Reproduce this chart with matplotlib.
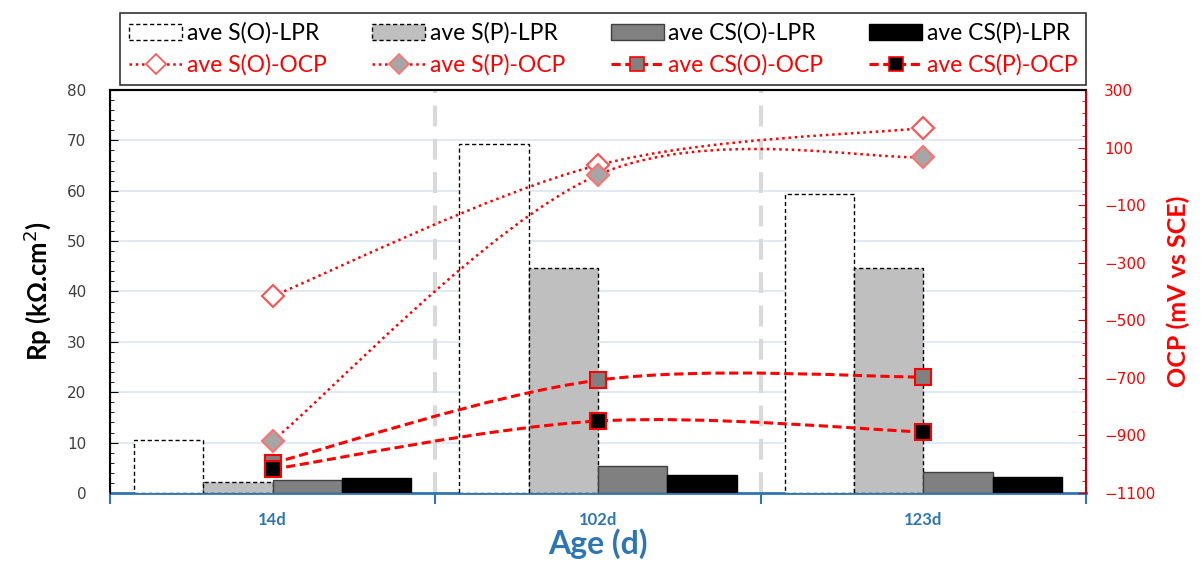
import numpy as np
import matplotlib
matplotlib.use("Agg")
import matplotlib.pyplot as plt
from matplotlib.path import Path
from matplotlib.patches import PathPatch, Patch
from matplotlib.lines import Line2D

# data
ages = ["14d", "102d", "123d"]
lpr_names = ["ave S(O)-LPR", "ave S(P)-LPR", "ave CS(O)-LPR", "ave CS(P)-LPR"]
s_o_lpr = [10.5, 69.2, 59.3]
s_p_lpr = [2.2, 44.6, 44.6]
cs_o_lpr = [2.6, 5.4, 4.2]
cs_p_lpr = [3.0, 3.6, 3.2]

ocp_names = ["ave S(O)-OCP", "ave S(P)-OCP", "ave CS(O)-OCP", "ave CS(P)-OCP"]
s_o_ocp = [-416, 39, 168]
s_p_ocp = [-919, 5, 67]
cs_o_ocp = [-996, -708, -697]
cs_p_ocp = [-1017, -850, -888]

BLUE = "#2E75B6"
RED = "#FF0000"
FONT = ["Lato", "DejaVu Sans"]


def smooth_path(xs, ys):
    # excel-like smoothed line: cubic bezier through the points
    pts = np.column_stack([xs, ys]).astype(float)
    n = len(pts)
    verts = [pts[0]]
    codes = [Path.MOVETO]
    for i in range(n - 1):
        p0 = pts[max(i - 1, 0)]
        p1 = pts[i]
        p2 = pts[i + 1]
        p3 = pts[min(i + 2, n - 1)]
        c1 = p1 + (p2 - p0) / 6.0
        c2 = p2 - (p3 - p1) / 6.0
        verts += [c1, c2, p2]
        codes += [Path.CURVE4] * 3
    return Path(verts, codes)


fig = plt.figure(figsize=(12.03, 5.67), dpi=100)
ax = fig.add_axes([0.0914, 0.1305, 0.8113, 0.7108])
ax2 = ax.twinx()

x = np.arange(len(ages))
w = 0.213
bar_styles = [
    dict(color="white", edgecolor="black", linestyle=(0, (3, 2)), linewidth=1.0),
    dict(color="#BFBFBF", edgecolor="black", linestyle=(0, (3, 2)), linewidth=1.0),
    dict(color="#808080", edgecolor="#404040", linewidth=1.0),
    dict(color="black", edgecolor="black", linewidth=1.0),
]
lpr_vals = [s_o_lpr, s_p_lpr, cs_o_lpr, cs_p_lpr]
bar_handles = []
for k, (vals, st) in enumerate(zip(lpr_vals, bar_styles)):
    ax.bar(x + (k - 1.5) * w, vals, width=w, zorder=3, **st)
    bar_handles.append(Patch(facecolor=st["color"], edgecolor=st["edgecolor"],
                             linestyle=st.get("linestyle", "-"), linewidth=1.0,
                             label=lpr_names[k]))

# horizontal gridlines and category separators
ax.set_ylim(0, 80)
ax.set_yticks(np.arange(0, 81, 10))
ax.set_yticks(np.arange(0, 81, 2), minor=True)
ax.grid(axis="y", color="#DCE6F2", linewidth=1.2, zorder=0)
ax.set_axisbelow(True)
for b in [0.5, 1.5]:
    ax.axvline(b, color="#D9D9D9", linewidth=3, linestyle=(0, (5, 3)), zorder=1)

ax.set_xlim(-0.5, 2.5)
ax.set_xticks(x)
ax.set_xticklabels(ages)
ax.set_xticks([-0.5, 0.5, 1.5, 2.5], minor=True)
ax.tick_params(axis="x", which="major", length=0, pad=14, labelcolor=BLUE)
ax.tick_params(axis="x", which="minor", length=8, width=1.5, color=BLUE, direction="out")
for t in ax.get_xticklabels():
    t.set_fontweight("bold")
    t.set_fontsize(12)
    t.set_family(FONT)

ax.tick_params(axis="y", which="major", direction="in", length=6, labelcolor="#404040",
               labelsize=11, pad=17)
ax.tick_params(axis="y", which="minor", direction="in", length=3)
ax.spines["bottom"].set_color(BLUE)
ax.spines["bottom"].set_linewidth(2)
ax.spines["left"].set_linewidth(1.5)
ax.spines["top"].set_linewidth(1.5)
ax.set_ylabel("Rp (kΩ.cm$^2$)", fontsize=18.5, fontweight="bold", family=FONT, labelpad=10)
ax.set_xlabel("Age (d)", fontsize=23, fontweight="bold", color=BLUE, family=FONT, labelpad=0)

# OCP on right axis
ax2.set_ylim(-1100, 300)
ax2.set_yticks(np.arange(-1100, 301, 200))
ax2.set_yticks(np.arange(-1100, 301, 40), minor=True)
ax2.tick_params(axis="y", which="major", direction="in", length=6, color="#C00000",
                labelcolor=RED, labelsize=11, pad=13)
ax2.tick_params(axis="y", which="minor", direction="in", length=3, color="#C00000")
ax2.spines["right"].set_color("#C00000")
ax2.spines["right"].set_linewidth(1.5)
ax2.spines["bottom"].set_visible(False)
ax2.spines["top"].set_linewidth(1.5)
ax2.set_ylabel("OCP (mV vs SCE)", fontsize=18, fontweight="bold", color=RED,
               family=FONT, labelpad=8)

ocp_vals = [s_o_ocp, s_p_ocp, cs_o_ocp, cs_p_ocp]
line_styles = [
    dict(ls=(0, (1, 1.5)), lw=1.8, marker="D", mfc="white", mec="#FF5050", ms=11),
    dict(ls=(0, (1, 1.5)), lw=1.8, marker="D", mfc="#A6A6A6", mec="#FF7070", ms=11),
    dict(ls=(0, (3, 1.5)), lw=2.2, marker="s", mfc="#808080", mec=RED, ms=11),
    dict(ls=(0, (3, 1.5)), lw=2.2, marker="s", mfc="black", mec=RED, ms=11),
]
line_handles = []
for k, (vals, st) in enumerate(zip(ocp_vals, line_styles)):
    patch = PathPatch(smooth_path(x, vals), facecolor="none", edgecolor=RED,
                      linestyle=st["ls"], linewidth=st["lw"], zorder=4)
    ax2.add_patch(patch)
    ax2.plot(x, vals, linestyle="none", marker=st["marker"], markersize=st["ms"],
             markerfacecolor=st["mfc"], markeredgecolor=st["mec"], markeredgewidth=1.5,
             zorder=5)
    line_handles.append(Line2D([], [], color=RED, linestyle=st["ls"], linewidth=st["lw"],
                               marker=st["marker"], markersize=10, markerfacecolor=st["mfc"],
                               markeredgecolor=st["mec"], markeredgewidth=1.2,
                               label=ocp_names[k]))

# legend: two rows, four columns (column-major fill)
handles = []
for b, l in zip(bar_handles, line_handles):
    handles += [b, l]
leg = fig.legend(handles=handles, ncol=4, loc="upper center",
                 bbox_to_anchor=(0.5015, 0.997), frameon=True, fancybox=False,
                 edgecolor="black", prop={"family": FONT, "size": 16.5},
                 handlelength=2.3, handletextpad=0.2, columnspacing=2.0,
                 borderpad=0.4, labelspacing=0.45)
leg.get_frame().set_linewidth(1.2)
for t, h in zip(leg.get_texts(), handles):
    t.set_color(RED if isinstance(h, Line2D) else "black")

fig.savefig("out.png", dpi=100)
